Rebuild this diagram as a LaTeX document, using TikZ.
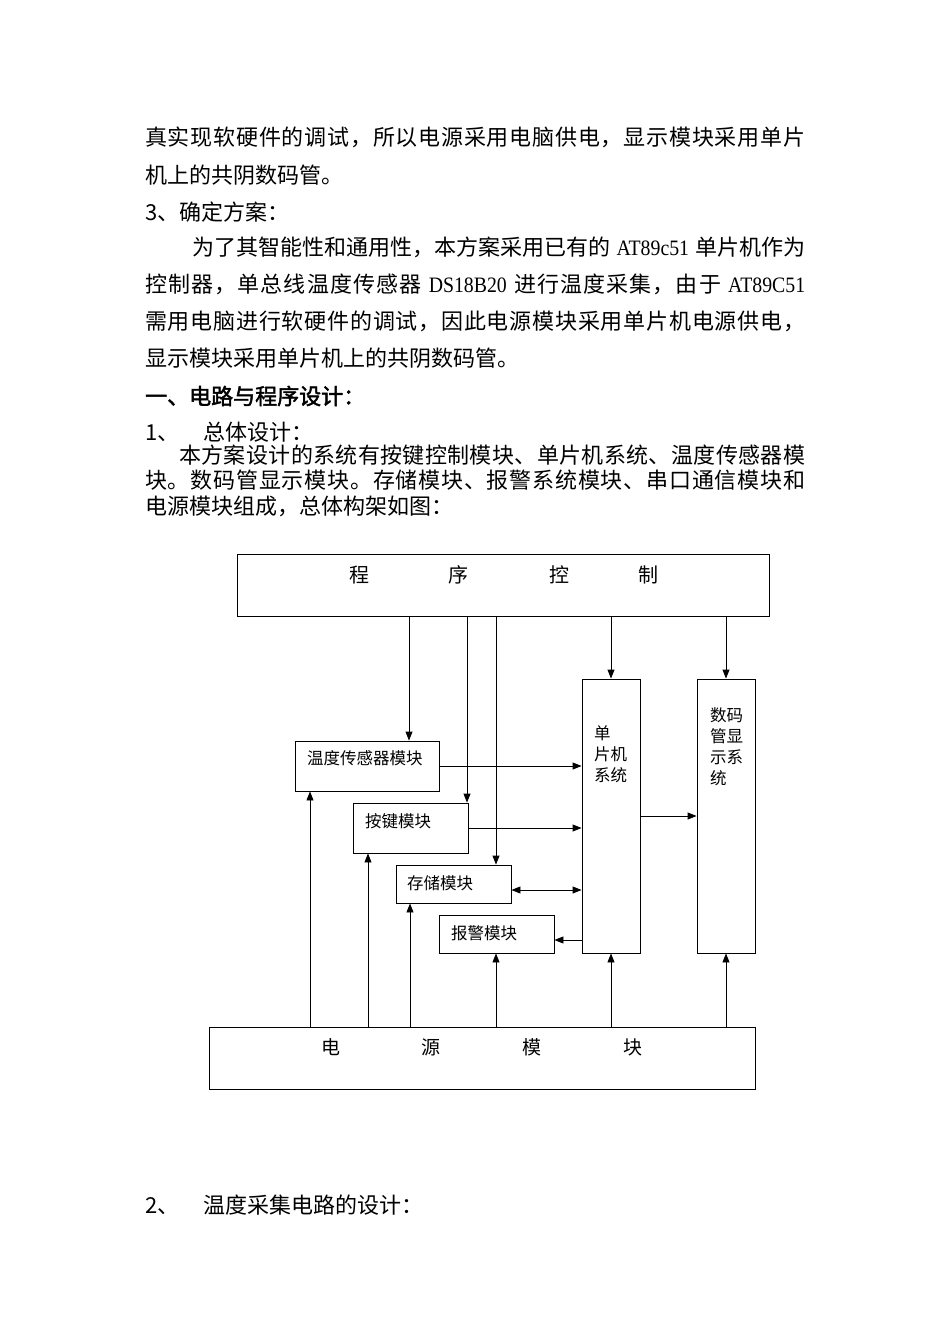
\documentclass[tikz,border=0pt]{standalone}
\usepackage{fontspec}
\usepackage{graphicx}
\setmainfont{Noto Sans CJK SC}
\newfontfamily\cjkbold[FakeBold=2]{Noto Sans CJK SC}
\newfontfamily\lat{Liberation Serif}
\newcommand\latrun[1]{\scalebox{0.9}[1]{\lat #1}}
% spread characters: insert stretchable glue between characters
\def\sj#1{\sjB#1\relax}
\def\sjB#1{#1\sjC}
\def\sjC#1{\ifx#1\relax\else\hfil#1\expandafter\sjC\fi}
\usetikzlibrary{arrows.meta,calc}
\tikzset{
  body/.style={anchor=west, inner sep=0pt, font=\fontsize{22}{22}\selectfont},
  box/.style={draw, line width=0.9pt, inner sep=0pt},
  arr/.style={draw, line width=0.9pt, -{Triangle[length=9pt,width=7pt]}},
  darr/.style={draw, line width=0.9pt, {Triangle[length=9pt,width=7pt]}-{Triangle[length=9pt,width=7pt]}},
  dlbl/.style={inner sep=0pt, font=\fontsize{16.5}{21}\selectfont},
  biglbl/.style={anchor=west, inner sep=0pt, font=\fontsize{20}{20}\selectfont}
}
\begin{document}
\begin{tikzpicture}[x=1pt,y=-1pt]
\useasboundingbox (0,0) rectangle (950,1344);
\fill[white] (0,0) rectangle (950,1344);

% body text
\node[body] (l1) at (145,137) {\hbox to 660pt{\sj{真实现软硬件的调试，所以电源采用电脑供电，显示模块采用单片}}};
\node[body] (l2) at (145,175) {机上的共阴数码管。};
\node[body] (l3) at (145,212) {3、确定方案：};
\node[body] (l4) at (192,247) {\hbox to 613pt{\sj{为了其智能性和通用性，本方案采用已有的}\hfil\hspace{6pt}\latrun{AT89c51}\hspace{6pt}\hfil\sj{单片机作为}}};
\node[body] (l5) at (145,284) {\hbox to 660pt{\sj{控制器，单总线温度传感器}\hfil\hspace{6pt}\latrun{DS18B20}\hspace{6pt}\hfil\sj{进行温度采集，由于}\hfil\hspace{6pt}\latrun{AT89C51}}};
\node[body] (l6) at (145,321) {\hbox to 660pt{\sj{需用电脑进行软硬件的调试，因此电源模块采用单片机电源供电，}}};
\node[body] (l7) at (145,358) {显示模块采用单片机上的共阴数码管。};
\node[body] (l8) at (145,396) {\cjkbold 一、电路与程序设计：};
\node[body] (l9) at (145,432) {\makebox[58pt][l]{1、}总体设计：};
\node[body] (l10) at (179,455) {\hbox to 626pt{\sj{本方案设计的系统有按键控制模块、单片机系统、温度传感器模}}};
\node[body] (l11) at (145,480) {\hbox to 660pt{\sj{块。数码管显示模块。存储模块、报警系统模块、串口通信模块和}}};
\node[body] (l12) at (145,506) {电源模块组成，总体构架如图：};
\node[body] (l13) at (145,1205) {\makebox[58pt][l]{2、}温度采集电路的设计：};

% boxes
\node[box, minimum width=532pt, minimum height=62pt] (prog) at (503,585) {};
\node[box, minimum width=144pt, minimum height=50pt] (temp) at (367,766) {};
\node[box, minimum width=115pt, minimum height=50pt] (key) at (410.5,828) {};
\node[box, minimum width=115pt, minimum height=38pt] (store) at (453.5,884) {};
\node[box, minimum width=115pt, minimum height=38pt] (alarm) at (496.5,934) {};
\node[box, minimum width=58pt, minimum height=274pt] (mcu) at (611,816) {};
\node[box, minimum width=58pt, minimum height=274pt] (disp) at (726,816) {};
\node[box, minimum width=546pt, minimum height=62pt] (power) at (482,1058) {};

% labels
\node[biglbl] (progtxt) at (349,575) {程\hspace{79pt}序\hspace{81pt}控\hspace{69pt}制};
\node[biglbl, font=\fontsize{19}{19}\selectfont] (powtxt) at (321.5,1047) {电\hspace{81pt}源\hspace{82pt}模\hspace{82pt}块};
\node[dlbl, anchor=west] (temptxt) at (307,758) {温度传感器模块};
\node[dlbl, anchor=west] (keytxt) at (365,821) {按键模块};
\node[dlbl, anchor=west] (storetxt) at (407,883) {存储模块};
\node[dlbl, anchor=west] (alarmtxt) at (451,933) {报警模块};
\node[dlbl, anchor=north west, align=left] (mcutxt) at (594,725) {单\\片机\\系统};
\node[dlbl, anchor=north west, align=left] (disptxt) at (710,707) {数码\\管显\\示系\\统};

% x positions
\coordinate (xa) at (409,0);
\coordinate (xb) at (467,0);
\coordinate (xc) at (496,0);
\coordinate (xd) at (611,0);
\coordinate (xe) at (726,0);
\coordinate (xf) at (310,0);
\coordinate (xg) at (368,0);
\coordinate (xh) at (410,0);
% y positions
\coordinate (ya) at (0,766);
\coordinate (yb) at (0,828);
\coordinate (yc) at (0,890);
\coordinate (yd) at (0,940);
\coordinate (ye) at (0,816);

% program control arrows
\draw[arr] (prog.south -| xa) -- (temp.north -| xa);
\draw[arr] (prog.south -| xb) -- (key.north -| xb);
\draw[arr] (prog.south -| xc) -- (store.north -| xc);
\draw[arr] (prog.south -| xd) -- (mcu.north -| xd);
\draw[arr] (prog.south -| xe) -- (disp.north -| xe);

% power arrows
\draw[arr] (power.north -| xf) -- (temp.south -| xf);
\draw[arr] (power.north -| xg) -- (key.south -| xg);
\draw[arr] (power.north -| xh) -- (store.south -| xh);
\draw[arr] (power.north -| xc) -- (alarm.south -| xc);
\draw[arr] (power.north -| xd) -- (mcu.south -| xd);
\draw[arr] (power.north -| xe) -- (disp.south -| xe);

% horizontal
\draw[arr] (temp.east |- ya) -- (mcu.west |- ya);
\draw[arr] (key.east |- yb) -- (mcu.west |- yb);
\draw[darr] (store.east |- yc) -- (mcu.west |- yc);
\draw[arr] (mcu.west |- yd) -- (alarm.east |- yd);
\draw[arr] (mcu.east |- ye) -- (disp.west |- ye);
\end{tikzpicture}
\end{document}
